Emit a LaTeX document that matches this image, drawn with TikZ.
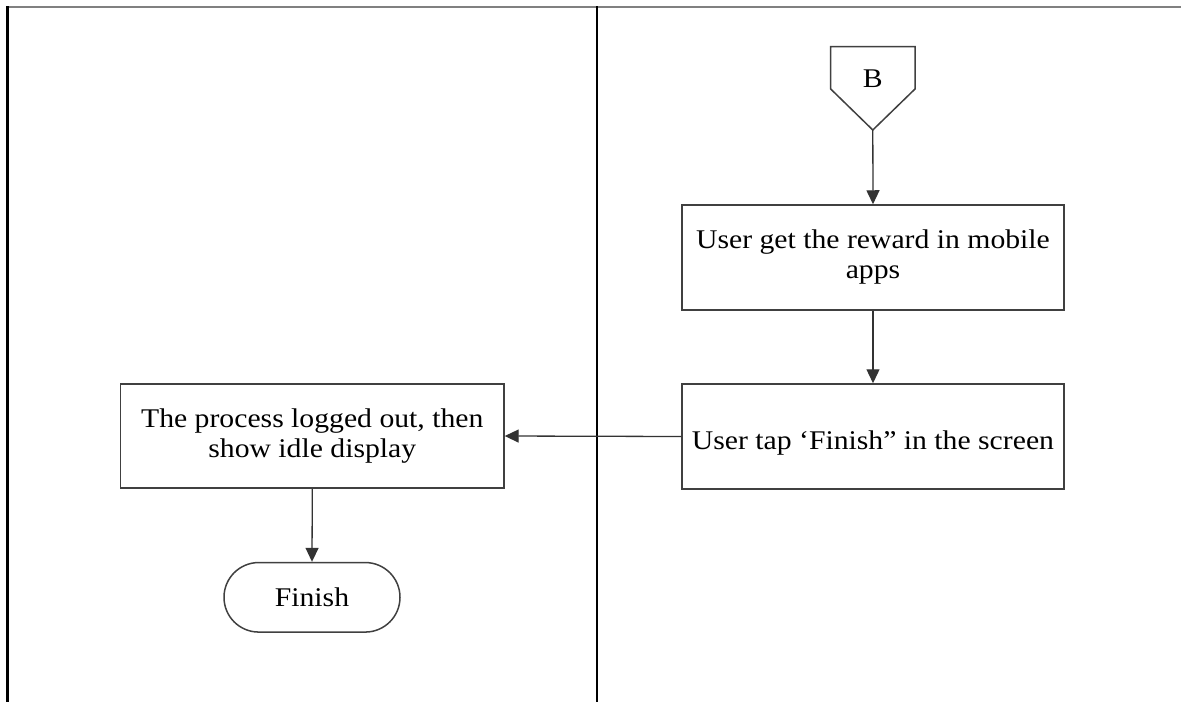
\documentclass[tikz,border=0pt]{standalone}
\usepackage{fontspec}
\setmainfont[FakeStretch=1.1]{Liberation Serif}
\usetikzlibrary{arrows.meta}
\tikzset{
  txt/.style={font=\fontsize{27}{30}\selectfont},
  procbox/.style={txt, draw=black!75, line width=1.5pt, fill=white, minimum width=382pt, minimum height=105pt, inner sep=0pt, align=center},
  termbox/.style={txt, draw=black!75, line width=1.5pt, fill=white, minimum width=176pt, minimum height=69.5pt, rounded corners=34.7pt, inner sep=0pt},
  flow/.style={draw=black!80, line width=1.3pt, -{Triangle[length=14pt,width=13pt]}},
  lane/.style={draw=black, line width=2.2pt},
}
\begin{document}
\begin{tikzpicture}[x=1pt,y=-1pt]
\useasboundingbox (0,0) rectangle (1181,702);
% frame
\draw[draw=black!50, line width=2pt] (6.5,7) -- (1181,7);
\draw[lane] (7.5,6) -- (7.5,702);
\draw[lane] (597,6) -- (597,702);
% off-page connector B
\draw[draw=black!75, line width=1.5pt, fill=white] (830.7,46.7) -- (915,46.7) -- (915,89) -- (872.8,130) -- (830.7,89) -- cycle;
\node[txt, inner sep=0pt] (B) at (872.8,79) {B};
\coordinate (Btip) at (872.8,130);
% boxes
\node[procbox] (reward) at (873,257.5) {User get the reward in mobile\\apps};
\node[procbox, text height=30pt, text depth=5pt] (tap) at (873,436.5) {User tap ‘Finish” in the screen};
\node[procbox, minimum width=383.3pt, minimum height=104pt] (logout) at (312.3,436) {The process logged out, then\\show idle display};
\node[termbox] (finish) at (312,597.3) {Finish};
% connectors
\draw[flow] (Btip) -- (reward.north);
\draw[flow] (reward.south) -- (tap.north);
\draw[flow] (tap.west) -- (logout.east);
\draw[flow] (logout.south) -- (finish.north);
\end{tikzpicture}
\end{document}
